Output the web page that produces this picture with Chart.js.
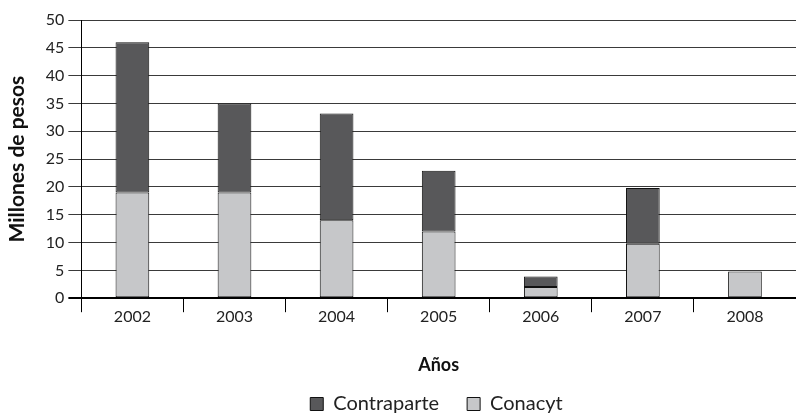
<!DOCTYPE html>
<html lang="es">
<head>
<meta charset="UTF-8">
<title>Millones de pesos por año</title>
<script src="https://cdn.jsdelivr.net/npm/chart.js"></script>
<style>
    html, body {
        margin: 0;
        padding: 0;
        background: #ffffff;
    }
    #wrap {
        width: 796px;
        height: 414px;
    }
</style>
</head>
<body>
<div id="wrap"><canvas id="grafico" width="796" height="414"></canvas></div>
<script>
    const anios = ['2002', '2003', '2004', '2005', '2006', '2007', '2008'];
    const conacyt = [19, 19, 14, 12, 2, 9.8, 4.8];
    const contraparte = [27, 16, 19.2, 10.9, 1.9, 10, 0];

    const fuente = 'Lato, "Open Sans", sans-serif';

    // la leyenda va centrada bajo el área de barras y algo más abajo
    const moverLeyenda = {
        id: 'moverLeyenda',
        afterLayout(chart) {
            const ley = chart.legend;
            ley.top += 10;
            ley.bottom += 10;
            ley.left += 36;
            ley.right += 36;
        }
    };

    const ctx = document.getElementById('grafico').getContext('2d');
    new Chart(ctx, {
        type: 'bar',
        data: {
            labels: anios,
            datasets: [
                {
                    label: 'Conacyt',
                    data: conacyt,
                    backgroundColor: '#c6c7c9',
                    borderColor: '#111',
                    borderWidth: 1,
                    borderSkipped: false,
                    categoryPercentage: 1,
                    barPercentage: 0.33
                },
                {
                    label: 'Contraparte',
                    data: contraparte,
                    backgroundColor: '#58585a',
                    borderColor: '#111',
                    borderWidth: 1,
                    borderSkipped: false,
                    categoryPercentage: 1,
                    barPercentage: 0.33
                }
            ]
        },
        plugins: [moverLeyenda],
        options: {
            responsive: false,
            animation: false,
            layout: { padding: { top: 20, right: 0, left: 5, bottom: 0 } },
            plugins: {
                tooltip: { enabled: false },
                legend: {
                    position: 'bottom',
                    reverse: true,
                    labels: {
                        color: '#222',
                        font: { family: fuente, size: 20 },
                        boxWidth: 13,
                        boxHeight: 13,
                        padding: 28,
                        useBorderRadius: false
                    }
                }
            },
            scales: {
                x: {
                    stacked: true,
                    grid: {
                        offset: true,
                        drawOnChartArea: false,
                        color: '#000',
                        tickLength: 14
                    },
                    border: { display: true, color: '#000', width: 2 },
                    ticks: {
                        color: '#222',
                        font: { family: fuente, size: 16 },
                        padding: -5
                    },
                    title: {
                        display: true,
                        text: 'Años',
                        color: '#111',
                        font: { family: fuente, size: 18, weight: 'bold' },
                        padding: { top: 33, bottom: -20 }
                    }
                },
                y: {
                    stacked: true,
                    min: 0,
                    max: 50,
                    ticks: {
                        stepSize: 5,
                        color: '#222',
                        font: { family: fuente, size: 16 },
                        padding: 4
                    },
                    grid: {
                        color: c => c.tick && c.tick.value === 0 ? '#000' : '#3a3a3a',
                        lineWidth: c => c.tick && c.tick.value === 0 ? 2 : 1,
                        tickLength: 13
                    },
                    border: { display: true, color: '#000', width: 1 },
                    title: {
                        display: true,
                        text: 'Millones de pesos',
                        color: '#111',
                        font: { family: fuente, size: 21, weight: 'bold' },
                        padding: { top: 0, bottom: 11.6 }
                    }
                }
            }
        }
    });
</script>
</body>
</html>
